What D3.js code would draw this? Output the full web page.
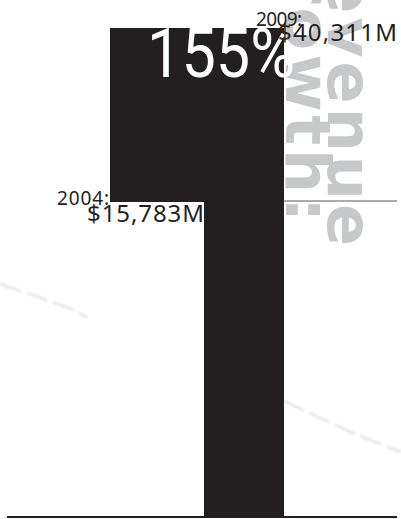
<!DOCTYPE html>
<html>
<head>
<meta charset="utf-8">
<script src="https://cdn.jsdelivr.net/npm/d3@7"></script>
<style>
  body { margin: 0; background: #fff; }
  svg { display: block; }
</style>
</head>
<body>
<svg id="chart" width="401" height="519"></svg>
<script>
// revenue, $M
var years = ['2004', '2009']
var revenue = [15783, 40311]
var titleLines = ['Revenue', 'growth:']

var ink = '#231f20'
var gray = '#c7c8ca'

var svg = d3.select('#chart')
var baseY = 517

// the bar only shows the step from 2004 up to 2009
var y = d3.scaleLinear().domain(d3.extent(revenue)).range([201, 28])
var barLeft = 204
var barRight = 284
var stepLeft = 110
var money = function (v) { return d3.format('$,')(v) + 'M' }

// faint background streaks
var defs = svg.append('defs')
defs.append('filter').attr('id', 'soft')
  .append('feGaussianBlur').attr('stdDeviation', 1.2)

var streaks = [
  [[0, 284], [30, 294], [72, 309], [88, 318]],
  [[284, 401], [320, 418], [355, 434], [401, 452]]
]
svg.selectAll('.streak')
  .data(streaks).enter()
  .append('path')
  .attr('class', 'streak')
  .attr('d', d3.line())
  .attr('fill', 'none')
  .attr('stroke', '#e8e8e8')
  .attr('stroke-width', 3)
  .attr('stroke-dasharray', '22,6')
  .attr('filter', 'url(#soft)')

// vertical title
var titleX = [328, 286]
var titleEnd = [250, 226]
svg.selectAll('.title')
  .data(titleLines).enter()
  .append('text')
  .attr('class', 'title')
  .attr('transform', function (d, i) { return 'translate(' + titleX[i] + ',' + titleEnd[i] + ') rotate(90)' })
  .attr('text-anchor', 'end')
  .attr('font-family', 'DejaVu Sans')
  .attr('font-weight', 'bold')
  .attr('font-size', 62)
  .attr('letter-spacing', 4)
  .attr('fill', gray)
  .text(function (d) { return d })

// wide block = growth between the two years, narrow bar = 2009 down to base
svg.append('rect')
  .attr('x', stepLeft)
  .attr('y', y(revenue[1]))
  .attr('width', barRight - stepLeft)
  .attr('height', y(revenue[0]) - y(revenue[1]) + 1)
  .attr('fill', ink)

svg.append('rect')
  .attr('x', barLeft)
  .attr('y', y(revenue[1]))
  .attr('width', barRight - barLeft)
  .attr('height', baseY - y(revenue[1]))
  .attr('fill', ink)

// 2004 level rule
svg.append('line')
  .attr('x1', barRight)
  .attr('x2', 397)
  .attr('y1', y(revenue[0]))
  .attr('y2', y(revenue[0]))
  .attr('stroke', '#58595b')
  .attr('stroke-width', 1)

// growth percent
svg.append('text')
  .attr('x', 147)
  .attr('y', y(revenue[1]) + 49)
  .attr('font-family', 'Roboto')
  .attr('font-size', 68)
  .attr('textLength', 148)
  .attr('lengthAdjust', 'spacingAndGlyphs')
  .attr('fill', '#fff')
  .text(d3.format('.0%')(revenue[1] / revenue[0] - 1))

// year / value labels
var labelPos = [
  { x: 57, yearW: 52, valX: 87, valW: 117 },
  { x: 256, yearW: 46, valX: 278, valW: 119 }
]
var yearOff = [4, -2]
var valOff = [21, 13]

years.forEach(function (yr, i) {
  var p = labelPos[i]
  var g = svg.append('g').attr('font-family', 'Noto Sans').attr('fill', ink)
  g.append('text')
    .attr('x', p.x)
    .attr('y', y(revenue[i]) + yearOff[i])
    .attr('font-size', 19)
    .attr('textLength', p.yearW)
    .attr('lengthAdjust', 'spacing')
    .text(yr + ':')
  g.append('text')
    .attr('x', p.valX)
    .attr('y', y(revenue[i]) + valOff[i])
    .attr('font-size', 24)
    .attr('textLength', p.valW)
    .attr('lengthAdjust', 'spacing')
    .text(money(revenue[i]))
})

// base line
svg.append('line')
  .attr('x1', 7)
  .attr('x2', 397)
  .attr('y1', baseY)
  .attr('y2', baseY)
  .attr('stroke', ink)
  .attr('stroke-width', 2)
</script>
</body>
</html>
